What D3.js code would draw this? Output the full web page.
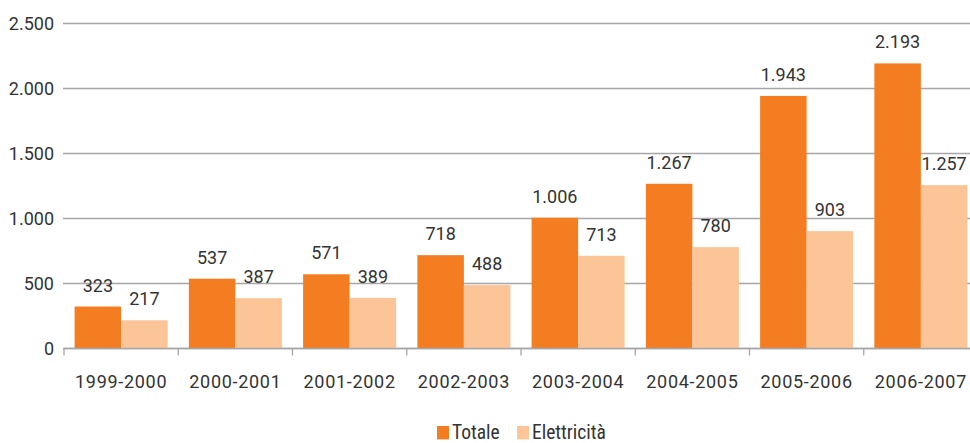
<!DOCTYPE html>
<html><head><meta charset="utf-8">
<script src="https://cdn.jsdelivr.net/npm/d3@7"></script>
<style>body{margin:0;background:#fff}svg{display:block}text{font-family:Roboto,"Liberation Sans",sans-serif;fill:#333}</style>
</head><body><svg id="c" width="970" height="443"></svg>
<script>
const categories = ["1999-2000","2000-2001","2001-2002","2002-2003","2003-2004","2004-2005","2005-2006","2006-2007"];
const totale = [323,537,571,718,1006,1267,1943,2193];
const elettricita = [217,387,389,488,713,780,903,1257];
const seriesNames = ["Totale","Elettricità"];
const yTicks = [0,500,1000,1500,2000,2500];
const colors = ["#F47D22","#FCC598"];

const svg = d3.select("#c");
const fmt = v => d3.format(",")(v).replace(/,/g,".");
const x = d3.scaleBand().domain(categories).range([64,978]).paddingInner(0).paddingOuter(0);
const y = d3.scaleLinear().domain([0,2500]).range([348.5,23.5]);
const inner = d3.scaleBand().domain(seriesNames).range([0, x.bandwidth()]).paddingInner(0).paddingOuter(0.228);

// gridlines
svg.append("g").selectAll("line").data(yTicks).join("line")
  .attr("x1",63).attr("x2",970).attr("y1",d=>y(d)).attr("y2",d=>y(d))
  .attr("stroke","#a6a6a6").attr("stroke-width",1.3);
// y labels
svg.append("g").selectAll("text").data(yTicks).join("text")
  .attr("x",54).attr("y",d=>y(d)).attr("dy","0.36em").attr("text-anchor","end")
  .attr("font-size",18).text(fmt);

// bars
const data = categories.map((c,i)=>({c, vals:[totale[i], elettricita[i]]}));
const g = svg.append("g").selectAll("g").data(data).join("g")
  .attr("transform",d=>`translate(${x(d.c)},0)`);
g.selectAll("rect").data(d=>d.vals.map((v,j)=>({v,s:seriesNames[j],j}))).join("rect")
  .attr("x",d=>inner(d.s)).attr("width",inner.bandwidth())
  .attr("y",d=>y(d.v)).attr("height",d=>y(0)-y(d.v)).attr("fill",d=>colors[d.j]);
g.selectAll("text").data(d=>d.vals.map((v,j)=>({v,s:seriesNames[j],j}))).join("text")
  .attr("x",d=>inner(d.s)+inner.bandwidth()/2).attr("y",d=>y(d.v)-15)
  .attr("text-anchor","middle").attr("font-size",18).text(d=>fmt(d.v));

// x axis
const xa = svg.append("g");
xa.append("line").attr("x1",64).attr("x2",970).attr("y1",348.5).attr("y2",348.5).attr("stroke","#a6a6a6").attr("stroke-width",1.3);
xa.selectAll("line.t").data(categories.map(c=>x(c)).concat([x.range()[1]])).join("line").attr("class","t")
  .attr("x1",d=>d).attr("x2",d=>d).attr("y1",348.5).attr("y2",355.5).attr("stroke","#a6a6a6").attr("stroke-width",1.3);
xa.selectAll("text").data(categories).join("text")
  .attr("x",d=>x(d)+x.bandwidth()/2).attr("y",388).attr("text-anchor","middle")
  .attr("font-size",18).attr("letter-spacing","0.7px").text(d=>d);

// legend
const leg = svg.append("g");
const lx = [437,517];
seriesNames.forEach((s,i)=>{
  leg.append("rect").attr("x",lx[i]).attr("y",426).attr("width",12).attr("height",13.4).attr("fill",colors[i]);
  leg.append("text").attr("x",lx[i]+15).attr("y",438.5).attr("font-size",19.5)
    .style("font-family","'Liberation Sans Narrow','Roboto Condensed',Roboto,sans-serif").text(s);
});
</script></body></html>
